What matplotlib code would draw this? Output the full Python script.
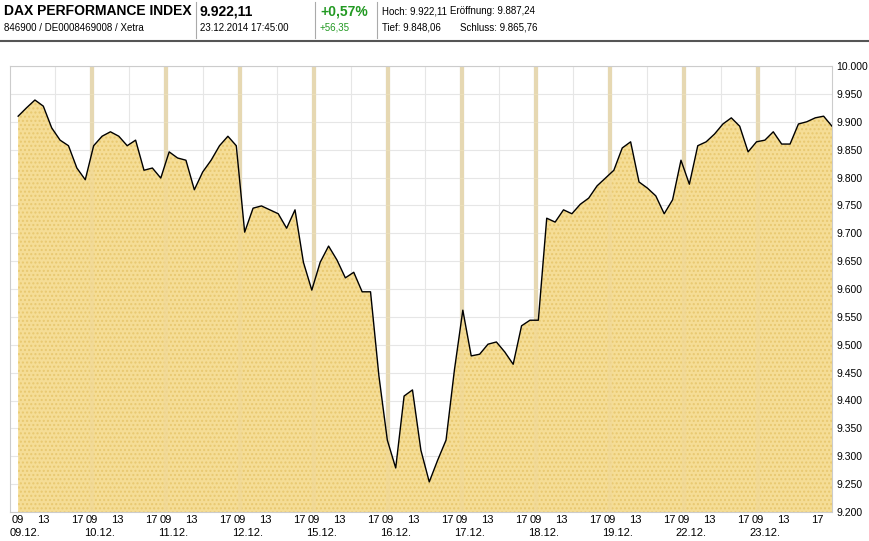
import matplotlib
matplotlib.use("Agg")
import matplotlib.pyplot as plt
import numpy as np

# DAX values, sampled roughly evenly across 11 trading sessions
values = [9910, 9925, 9939, 9928, 9889, 9867, 9857, 9817, 9796,
          9857, 9874, 9882, 9874, 9857, 9867, 9813, 9817, 9799,
          9846, 9835, 9831, 9778, 9810, 9831, 9857, 9874, 9857,
          9702, 9745, 9749, 9742, 9735, 9709, 9742, 9648, 9598,
          9648, 9677, 9652, 9620, 9630, 9595, 9595, 9444, 9329,
          9279, 9408, 9419, 9311, 9254, 9293, 9329, 9455, 9562,
          9480, 9483, 9501, 9505, 9487, 9465, 9534, 9544, 9544,
          9727, 9720, 9742, 9735, 9752, 9763, 9785, 9799, 9813,
          9853, 9864, 9792, 9781, 9767, 9735, 9760, 9831, 9788,
          9857, 9864, 9878, 9896, 9907, 9892, 9846, 9864, 9867,
          9882, 9860, 9860, 9896, 9900, 9907, 9910, 9892]
days = ["09.12.", "10.12.", "11.12.", "12.12.", "15.12.", "16.12.",
        "17.12.", "18.12.", "19.12.", "22.12.", "23.12."]
hour_labels = ["09", "13", "17"]

n_days = len(days)
x = np.linspace(0, n_days, len(values))

W, H = 869, 541
fig = plt.figure(figsize=(W / 100, H / 100), dpi=100)
ax = fig.add_axes([10 / W, (H - 512) / H, 822 / W, 446 / H])

ax.fill_between(x, 9200, values, color="#f5dd96", edgecolor="#e8c870",
                hatch="....", linewidth=0, zorder=2)
ax.plot(x, values, color="black", linewidth=1, zorder=3)

# grid
for k in range(1, n_days):
    ax.axvline(k, color="#d8d8d8", linewidth=3, zorder=1)
    ax.axvline(k, color="#f0d99a", linewidth=3, zorder=2.5, alpha=0.6)
for k in range(n_days):
    ax.axvline(k + 0.5, color="#e6e6e6", linewidth=0.8, zorder=1)
for v in range(9200, 10001, 50):
    ax.axhline(v, color="#e6e6e6", linewidth=0.8, zorder=1)

ax.set_xlim(-0.11, n_days)
ax.set_ylim(9200, 10000)
ax.yaxis.tick_right()
yt = np.arange(9200, 10001, 50)
ax.set_yticks(yt)
ax.set_yticklabels([f"{v // 1000}.{v % 1000:03d}" for v in yt], fontsize=7.5,
                   family="Liberation Sans")
ax.tick_params(length=0, pad=3)
ax.set_xticks([])
for s in ax.spines.values():
    s.set_color("#cccccc")

# x labels
ft = "Liberation Sans"
xtr = ax.get_xaxis_transform()
for k, d in enumerate(days):
    for h, off in zip(hour_labels, (0.0, 0.34, 0.80)):
        ax.text(k + off, -0.006, h, transform=xtr, ha="center", va="top",
                fontsize=8, family=ft)
    ax.text(k - 0.11, -0.036, d, transform=xtr, ha="left", va="top",
            fontsize=8, family=ft)

# header
fig.text(4 / W, 1 - 11 / H, "DAX PERFORMANCE INDEX", fontsize=10,
         weight="bold", family=ft, va="center")
fig.text(4 / W, 1 - 28 / H, "846900 / DE0008469008 / Xetra", fontsize=7,
         family=ft, va="center")
fig.text(200 / W, 1 - 11 / H, "9.922,11", fontsize=10, weight="bold",
         family=ft, va="center")
fig.text(200 / W, 1 - 28 / H, "23.12.2014 17:45:00", fontsize=7,
         family=ft, va="center")
fig.text(320 / W, 1 - 11 / H, "+0,57%", fontsize=10, weight="bold",
         color="#229922", family=ft, va="center")
fig.text(320 / W, 1 - 28 / H, "+56,35", fontsize=7, color="#229922",
         family=ft, va="center")
fig.text(382 / W, 1 - 11 / H, "Hoch: 9.922,11", fontsize=7, family=ft,
         va="center")
fig.text(450 / W, 1 - 11 / H, "Eröffnung: 9.887,24", fontsize=7, family=ft,
         va="center")
fig.text(382 / W, 1 - 28 / H, "Tief: 9.848,06", fontsize=7, family=ft,
         va="center")
fig.text(460 / W, 1 - 28 / H, "Schluss: 9.865,76", fontsize=7, family=ft,
         va="center")
for xs in (196, 315, 377):
    fig.add_artist(plt.Line2D([xs / W, xs / W], [1 - 2 / H, 1 - 38 / H],
                              color="#aaaaaa", linewidth=0.8))
fig.add_artist(plt.Line2D([0, 1], [1 - 41 / H, 1 - 41 / H],
                          color="#555555", linewidth=1.5))

fig.savefig("out.png", dpi=100)
